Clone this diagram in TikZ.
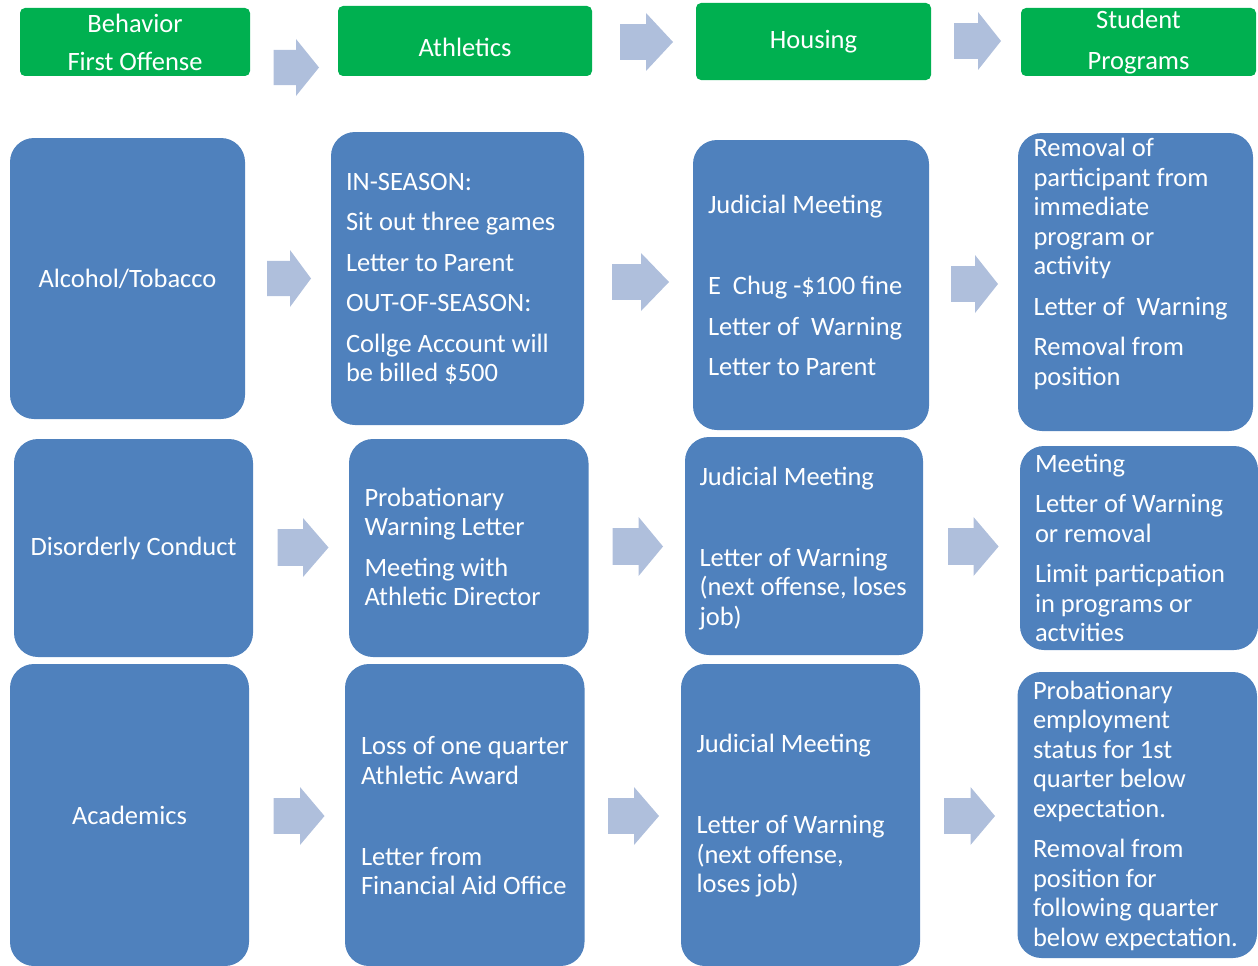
\documentclass[tikz,border=0pt]{standalone}
\usepackage{fontspec}
\setmainfont{Carlito}
\usetikzlibrary{calc}
\definecolor{hgreen}{RGB}{0,176,80}
\definecolor{bblue}{RGB}{79,129,189}
\definecolor{afill}{RGB}{175,191,220}
% block arrow: shaft start, head base, tip, centre y, head half-height
\newcommand\flowarrow[5]{%
  \fill[afill] (#1,#4-0.62*#5) -- (#2,#4-0.62*#5) -- (#2,#4-#5) -- (#3,#4)
    -- (#2,#4+#5) -- (#2,#4+0.62*#5) -- (#1,#4+0.62*#5) -- cycle;}
\begin{document}
\begin{tikzpicture}[x=1pt,y=-1pt,
  every node/.style={font=\fontsize{26.5}{29.5}\selectfont, inner sep=0pt},
  headbox/.style={fill=hgreen, rounded corners=5pt, text=white, align=center},
  bbox/.style={fill=bblue, rounded corners=24pt, text=white, align=center},
  boxtext/.style={text=white, align=left, anchor=west}]
\useasboundingbox (0,0) rectangle (1258,966);

% column headings
\node[headbox, minimum width=230pt, minimum height=68pt] (h1) at (135,42)
  {Behavior\\[8.5pt]First Offense};
\node[headbox, minimum width=254pt, minimum height=70pt] (h2) at (465,41) {};
\node[text=white] (h2t) at ($(h2.center)+(0,6)$) {Athletics};
\node[headbox, minimum width=235pt, minimum height=77pt] (h3) at (813.5,41.5) {Housing};
\node[headbox, minimum width=235pt, minimum height=68pt] (h4) at (1138.5,42)
  {Student\\[11.5pt]Programs};

\flowarrow{273.5}{296}{319}{67.5}{28.5}
\flowarrow{620}{646}{673}{42}{29}
\flowarrow{954}{978}{1001}{41}{29}

% row 1: alcohol / tobacco
\node[bbox, minimum width=235pt, minimum height=281pt] (b11) at (127.5,278.5) {Alcohol/Tobacco};
\node[bbox, minimum width=253pt, minimum height=293pt] (b12) at (457.5,278.5) {};
\node[bbox, minimum width=236pt, minimum height=290pt] (b13) at (811,285) {};
\node[bbox, minimum width=235pt, minimum height=298pt] (b14) at (1135.5,282) {};

\node[boxtext] (t12) at ($(b12.west)+(15,0.5)$)
  {IN-SEASON:\\[11pt]Sit out three games\\[11pt]Letter to Parent\\[11pt]OUT-OF-SEASON:\\[11pt]Collge Account will\\be billed \$500};
\node[boxtext] (t13) at ($(b13.west)+(15,0.5)$)
  {Judicial Meeting\\[51.5pt]E\ \ Chug -\$100 fine\\[11pt]Letter of\ \ Warning\\[11pt]Letter to Parent};
\node[boxtext] (t14) at ($(b14.west)+(15.5,-18)$)
  {Removal of\\participant from\\immediate\\program or\\activity\\[11pt]Letter of\ \ Warning\\[11pt]Removal from\\position};

\flowarrow{267}{290}{311}{278.5}{28.5}
\flowarrow{612}{641}{669}{282}{29}
\flowarrow{951}{975}{998}{284}{29}

% row 2: disorderly conduct
\node[bbox, minimum width=239pt, minimum height=218pt] (b21) at (133.5,548) {Disorderly Conduct};
\node[bbox, minimum width=239.5pt, minimum height=218pt] (b22) at (468.75,548) {};
\node[bbox, minimum width=238pt, minimum height=218pt] (b23) at (804,546) {};
\node[bbox, minimum width=238pt, minimum height=204pt] (b24) at (1139,548) {};

\node[boxtext] (t22) at ($(b22.west)+(15.5,-1)$)
  {Probationary\\Warning Letter\\[11pt]Meeting with\\Athletic Director};
\node[boxtext] (t23) at ($(b23.west)+(14.5,2.5)$)
  {Judicial Meeting\\[51.5pt]Letter of Warning\\(next offense, loses\\job)};
\node[boxtext] (t24) at ($(b24.west)+(15,0)$)
  {Meeting\\[11pt]Letter of Warning\\or removal\\[11pt]Limit particpation\\in programs or\\actvities};

\flowarrow{277.5}{303}{328.5}{547.5}{29.5}
\flowarrow{612.6}{638.6}{663}{546.5}{29.5}
\flowarrow{948}{973.5}{998.6}{546.5}{29.5}

% row 3: academics
\node[bbox, minimum width=239pt, minimum height=302pt] (b31) at (129.5,815) {Academics};
\node[bbox, minimum width=239.5pt, minimum height=302pt] (b32) at (464.75,815) {};
\node[bbox, minimum width=239pt, minimum height=302pt] (b33) at (800.5,815) {};
\node[bbox, minimum width=239.5pt, minimum height=286pt] (b34) at (1137.25,815) {};

\node[boxtext] (t32) at ($(b32.west)+(16,1)$)
  {Loss of one quarter\\Athletic Award\\[51.5pt]Letter from\\Financial Aid Office};
\node[boxtext] (t33) at ($(b33.west)+(15.5,1)$)
  {Judicial Meeting\\[51.5pt]Letter of Warning\\(next offense,\\loses job)};
\node[boxtext] (t34) at ($(b34.west)+(15.5,0.5)$)
  {Probationary\\employment\\status for 1st\\quarter below\\expectation.\\[11pt]Removal from\\position for\\following quarter\\below expectation.};

\flowarrow{273.5}{300}{324.5}{816}{29}
\flowarrow{608}{634}{659}{816}{29}
\flowarrow{944}{970.5}{995}{816}{29}
\end{tikzpicture}
\end{document}
